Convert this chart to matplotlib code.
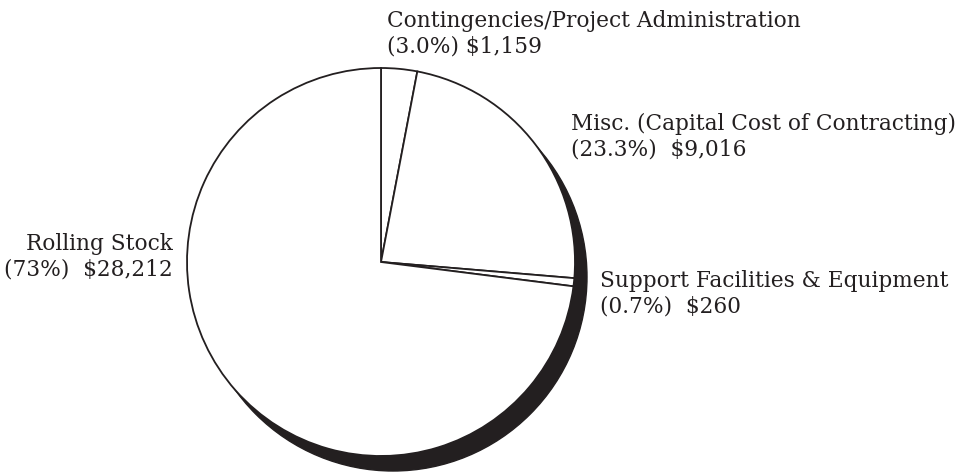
import matplotlib
matplotlib.use('Agg')
import matplotlib.pyplot as plt
from matplotlib.patches import Circle

# cost breakdown ($ thousands), clockwise from 12 o'clock
labels = ['Contingencies/Project Administration',
          'Misc. (Capital Cost of Contracting)',
          'Support Facilities & Equipment',
          'Rolling Stock']
pct_text = ['(3.0%)', '(23.3%)', '(0.7%)', '(73%)']
values = [1159, 9016, 260, 28212]

W, H = 967, 475
cx, cy, r = 381, H - 262, 194
ink = '#231f20'

fig = plt.figure(figsize=(W / 100, H / 100), dpi=100)
ax = fig.add_axes([0, 0, 1, 1])
ax.set_xlim(0, W)
ax.set_ylim(0, H)
ax.set_aspect('equal')
ax.axis('off')

# drop shadow
ax.add_patch(Circle((cx + 12, cy - 15), r, color=ink, zorder=1))

wedges, _ = ax.pie(values, center=(cx, cy), radius=r, startangle=90,
                   counterclock=False, colors=['white'] * len(values),
                   wedgeprops=dict(edgecolor=ink, linewidth=1.3))
for w in wedges:
    w.set_zorder(2)
ax.set_xlim(0, W)
ax.set_ylim(0, H)

txt = dict(family='DejaVu Serif', fontsize=15.6, color=ink, linespacing=1.2)
ax.text(387, H - 34, labels[0] + '\n' + pct_text[0] + ' $' + format(values[0], ','),
        ha='left', va='center', **txt)
ax.text(571, H - 137, labels[1] + '\n' + pct_text[1] + '  $' + format(values[1], ','),
        ha='left', va='center', **txt)
ax.text(600, H - 294, labels[2] + '\n' + pct_text[2] + '  $' + format(values[2], ','),
        ha='left', va='center', **txt)
ax.text(173, H - 257, labels[3] + '\n' + pct_text[3] + '  $' + format(values[3], ','),
        ha='right', va='center', multialignment='right', **txt)

fig.savefig('out.png', dpi=100)
